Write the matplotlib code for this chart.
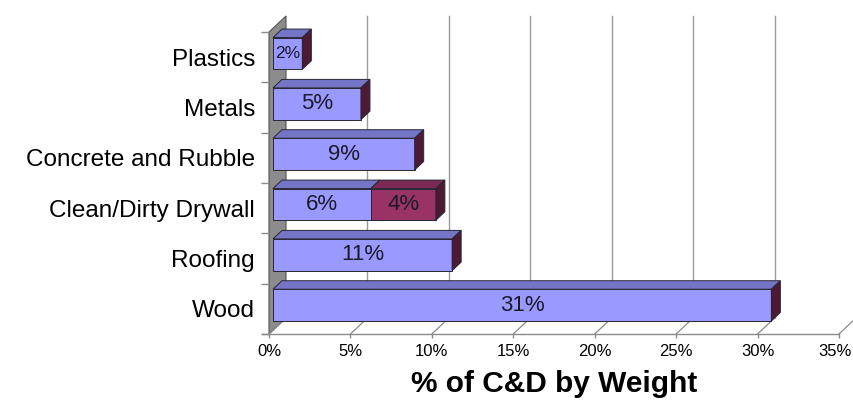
import numpy as np
import matplotlib
matplotlib.use('Agg')
import matplotlib.pyplot as plt
import matplotlib.transforms as mtransforms
from matplotlib.patches import Polygon

plt.rcParams['font.family'] = ['Liberation Sans', 'DejaVu Sans']

#data (percent of C&D by weight)
categories = ['Wood', 'Roofing', 'Clean/Dirty Drywall', 'Concrete and Rubble', 'Metals', 'Plastics']
clean_vals = [30.6, 11.0, 6.0, 8.7, 5.4, 1.8]
dirty_vals = [0.0, 0.0, 4.0, 0.0, 0.0, 0.0]
xticks = [0, 5, 10, 15, 20, 25, 30, 35]

#colours of the fake 3d faces
front_blue, top_blue = '#9999ff', '#7575c8'
front_red, top_red = '#993366', '#7a2a55'
side_col = '#4d1a35'
edge_col = '#262633'

#depth of the fake 3d box, in data units
DX, DY = 1.044, 0.318
f0, f1 = 0.235, 0.765
bar_h = 0.63

fig = plt.figure(figsize=(8.54, 4.01), dpi=100)
ax = fig.add_axes([269/854, (401-334)/401, 570/854, 302/401])
ax.set_xlim(0, 35)
ax.set_ylim(-0.5, 5.5)
for s in ax.spines.values():
    s.set_visible(False)

###############################################################################
#back wall, floor lines and gridlines
wall = Polygon([(0, -0.5), (DX, -0.5 + DY), (DX, 5.5 + DY), (0, 5.5)],
               closed=True, facecolor='#8c8c8c', edgecolor='#555555', lw=0.8,
               clip_on=False, zorder=1)
ax.add_patch(wall)
for v in xticks:
    ax.plot([v, v + DX], [-0.5, -0.5 + DY], color='#8a8a8a', lw=0.9, clip_on=False, zorder=1)
    if v > 0:
        ax.plot([v + DX, v + DX], [-0.5 + DY, 5.5 + DY], color='#9a9a9a', lw=1.0,
                clip_on=False, zorder=1)
ax.plot([-0.4, 35], [-0.5, -0.5], color='#8a8a8a', lw=1.0, clip_on=False, zorder=1)

###############################################################################
def draw_box(x0, x1, c, front, top, side=True):
    ox, oy = f0 * DX, f0 * DY
    ddx, ddy = (f1 - f0) * DX, (f1 - f0) * DY
    xa, xb = x0 + ox, x1 + ox
    yb, yt = c - bar_h / 2 + oy, c + bar_h / 2 + oy
    faces = [
        ([(xa, yb), (xb, yb), (xb, yt), (xa, yt)], front),
        ([(xa, yt), (xb, yt), (xb + ddx, yt + ddy), (xa + ddx, yt + ddy)], top),
    ]
    if side:
        faces.append(([(xb, yb), (xb + ddx, yb + ddy), (xb + ddx, yt + ddy), (xb, yt)], side_col))
    for pts, col in faces:
        ax.add_patch(Polygon(pts, closed=True, facecolor=col, edgecolor=edge_col,
                             lw=0.7, clip_on=False, zorder=3))
    return (xa + xb) / 2, (yb + yt) / 2

for i, (cv, dv) in enumerate(zip(clean_vals, dirty_vals)):
    cx, cy = draw_box(0, cv, i, front_blue, top_blue, side=(dv == 0))
    fs = 12.5 if cv < 3 else 16
    ax.text(cx, cy, f'{cv:.0f}%', ha='center', va='center', fontsize=fs,
            color='#1a1a2a', zorder=4)
    if dv > 0:
        dx_, dy_ = draw_box(cv, cv + dv, i, front_red, top_red)
        ax.text(dx_, dy_, f'{dv:.0f}%', ha='center', va='center', fontsize=16,
                color='#1a1a2a', zorder=4)

###############################################################################
#axes labels
ax.set_yticks(range(len(categories)))
ax.set_yticklabels(categories, fontsize=17.5)
ax.set_yticks(np.arange(-0.5, 6, 1), minor=True)
ax.tick_params(axis='y', which='major', length=0, pad=10)
ax.tick_params(axis='y', which='minor', length=6, color='#8a8a8a', width=1)

ax.set_xticks(xticks)
ax.set_xticklabels([f'{v}%' for v in xticks], fontsize=12)
ax.tick_params(axis='x', length=3, color='#8a8a8a', width=1, pad=4)
ax.set_xlabel('% of C&D by Weight', fontsize=21.5, fontweight='bold', labelpad=8)

#last tick label sits at the right edge, nudge it in a bit
last = ax.get_xticklabels()[-1]
last.set_transform(last.get_transform() +
                   mtransforms.ScaledTranslation(-4/100, 0, fig.dpi_scale_trans))

fig.savefig('out.png', dpi=100)
